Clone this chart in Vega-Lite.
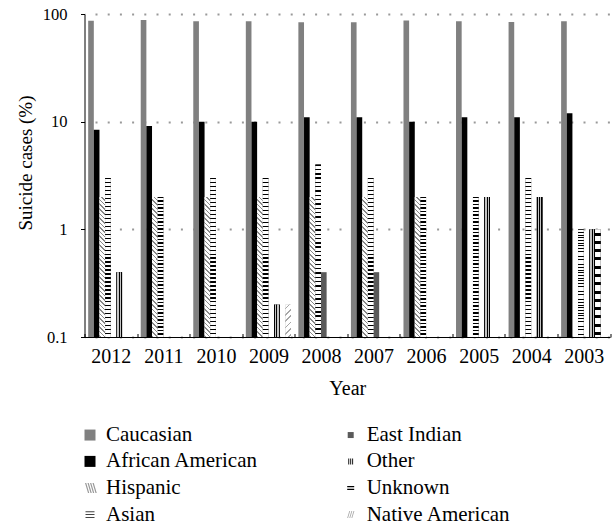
{
  "$schema": "https://vega.github.io/schema/vega-lite/v6.json",
  "width": 525.5,
  "height": 323,
  "autosize": {"type": "none"},
  "padding": {"left": 84.5, "top": 14, "right": 5, "bottom": 190},
  "background": "white",
  "config": {
    "font": "Liberation Serif",
    "view": {"stroke": null},
    "axis": {"labelFont": "Liberation Serif", "titleFont": "Liberation Serif"},
    "legend": {"labelFont": "Liberation Serif", "titleFont": "Liberation Serif"}
  },
  "data": {
    "values": [
      {"year": 2012, "race": "Caucasian", "value": 86.5},
      {"year": 2012, "race": "African American", "value": 8.4},
      {"year": 2012, "race": "Hispanic", "value": 2},
      {"year": 2012, "race": "Asian", "value": 3},
      {"year": 2012, "race": "Other", "value": 0.4},
      {"year": 2011, "race": "Caucasian", "value": 88},
      {"year": 2011, "race": "African American", "value": 9.1},
      {"year": 2011, "race": "Hispanic", "value": 2},
      {"year": 2011, "race": "Asian", "value": 2},
      {"year": 2010, "race": "Caucasian", "value": 85.5},
      {"year": 2010, "race": "African American", "value": 10},
      {"year": 2010, "race": "Hispanic", "value": 2},
      {"year": 2010, "race": "Asian", "value": 3},
      {"year": 2009, "race": "Caucasian", "value": 85.5},
      {"year": 2009, "race": "African American", "value": 10},
      {"year": 2009, "race": "Hispanic", "value": 2},
      {"year": 2009, "race": "Asian", "value": 3},
      {"year": 2009, "race": "Other", "value": 0.2},
      {"year": 2009, "race": "Native American", "value": 0.2},
      {"year": 2008, "race": "Caucasian", "value": 84},
      {"year": 2008, "race": "African American", "value": 11},
      {"year": 2008, "race": "Hispanic", "value": 2},
      {"year": 2008, "race": "Asian", "value": 4},
      {"year": 2008, "race": "East Indian", "value": 0.4},
      {"year": 2007, "race": "Caucasian", "value": 84},
      {"year": 2007, "race": "African American", "value": 11},
      {"year": 2007, "race": "Hispanic", "value": 2},
      {"year": 2007, "race": "Asian", "value": 3},
      {"year": 2007, "race": "East Indian", "value": 0.4},
      {"year": 2006, "race": "Caucasian", "value": 87},
      {"year": 2006, "race": "African American", "value": 10},
      {"year": 2006, "race": "Hispanic", "value": 2},
      {"year": 2006, "race": "Asian", "value": 2},
      {"year": 2005, "race": "Caucasian", "value": 85.5},
      {"year": 2005, "race": "African American", "value": 11},
      {"year": 2005, "race": "Asian", "value": 2},
      {"year": 2005, "race": "Other", "value": 2},
      {"year": 2004, "race": "Caucasian", "value": 84.5},
      {"year": 2004, "race": "African American", "value": 11},
      {"year": 2004, "race": "Asian", "value": 3},
      {"year": 2004, "race": "Other", "value": 2},
      {"year": 2003, "race": "Caucasian", "value": 85.5},
      {"year": 2003, "race": "African American", "value": 12},
      {"year": 2003, "race": "Asian", "value": 1},
      {"year": 2003, "race": "Other", "value": 1},
      {"year": 2003, "race": "Unknown", "value": 1}
    ]
  },
  "encoding": {
    "x": {
      "field": "year",
      "type": "ordinal",
      "scale": {"domain": [2012, 2011, 2010, 2009, 2008, 2007, 2006, 2005, 2004, 2003], "paddingInner": 0, "paddingOuter": 0},
      "axis": {
        "title": "Year",
        "labelAngle": 0,
        "labelFont": "Liberation Serif",
        "labelFontSize": 20,
        "labelColor": "#000",
        "labelPadding": 13,
        "tickSize": -3.5,
        "tickColor": "#000",
        "tickBand": "extent",
        "domainColor": "#000",
        "grid": false,
        "titleFont": "Liberation Serif",
        "titleFontSize": 20,
        "titleFontWeight": "normal",
        "titleColor": "#000",
        "titleY": 57,
        "titleBaseline": "alphabetic"
      }
    },
    "xOffset": {
      "field": "race",
      "type": "nominal",
      "scale": {
        "domain": ["Caucasian", "African American", "Hispanic", "Asian", "East Indian", "Other", "Unknown", "Native American"],
        "paddingInner": 0,
        "paddingOuter": 0.65
      }
    },
    "y": {
      "field": "value",
      "type": "quantitative",
      "stack": null,
      "scale": {"type": "log", "domain": [0.1, 100], "nice": false},
      "axis": {
        "title": "Suicide cases (%)",
        "values": [0.1, 1, 10, 100],
        "format": "~g",
        "labelFont": "Liberation Serif",
        "labelFontSize": 16.5,
        "labelColor": "#000",
        "labelPadding": 13.5,
        "tickSize": 4,
        "tickColor": "#000",
        "domainColor": "#000",
        "grid": true,
        "gridDash": [2, 10.2],
        "gridDashOffset": 1.7,
        "gridColor": "#999",
        "gridWidth": 2,
        "titleFont": "Liberation Serif",
        "titleFontSize": 19,
        "titleFontWeight": "normal",
        "titleColor": "#000",
        "titleAngle": -90,
        "titleX": -53,
        "titleY": 148.5,
        "titleAlign": "center",
        "titleBaseline": "alphabetic"
      }
    }
  },
  "layer": [
    {
      "mark": {"type": "bar"},
      "encoding": {
        "color": {
          "field": "race",
          "type": "nominal",
          "scale": {
            "domain": ["Caucasian", "African American", "Hispanic", "Asian", "East Indian", "Other", "Unknown", "Native American"],
            "range": ["#808080", "#000000", "#999999", "#444444", "#5a5a5a", "#000000", "#000000", "#aaaaaa"]
          },
          "legend": {
            "title": null,
            "orient": "none",
            "legendX": -5,
            "legendY": 410.3,
            "columns": 2,
            "columnPadding": 81.7,
            "rowPadding": 4.6,
            "padding": 0,
            "labelFont": "Liberation Serif",
            "labelFontSize": 21,
            "labelColor": "#000",
            "labelOffset": 5.5,
            "labelLimit": 300,
            "symbolType": "square",
            "symbolSize": 121,
            "symbolStrokeWidth": 0,
            "encode": {
              "symbols": {
                "update": {
                  "size": {"signal": "datum.value==='Caucasian'||datum.value==='African American'?121:datum.value==='Hispanic'?100:datum.value==='Asian'?81:datum.value==='Unknown'||datum.value==='Native American'?49:36"},
                  "shape": {"signal": "datum.value==='Hispanic'?'M-1,-1L-0.75,-1L-0.15,1L-0.4,1Z M-0.5,-1L-0.25,-1L0.35,1L0.1,1Z M0,-1L0.25,-1L0.85,1L0.6,1Z M0.5,-1L0.75,-1L1.35,1L1.1,1Z':datum.value==='Asian'?'M-1,-0.75h2v0.22h-2Z M-1,-0.11h2v0.22h-2Z M-1,0.53h2v0.22h-2Z':datum.value==='Other'?'M-0.8,-1h0.3v2h-0.3Z M-0.15,-1h0.3v2h-0.3Z M0.5,-1h0.3v2h-0.3Z':datum.value==='Unknown'?'M-1,-0.6h2v0.4h-2Z M-1,0.2h2v0.4h-2Z':datum.value==='Native American'?'M-1,1L-0.75,1L-0.15,-1L-0.4,-1Z M-0.4,1L-0.15,1L0.45,-1L0.2,-1Z M0.2,1L0.45,1L1.05,-1L0.8,-1Z':'square'"}
                }
              }
            }
          }
        }
      }
    },
    {
      "transform": [{"filter": "datum.race === 'Hispanic'"}],
      "mark": {
        "type": "bar",
        "fill": {"gradient": "linear", "x1": 0, "y1": 1, "x2": 0.0419, "y2": -0.0387, "stops": [
          {"offset": 0, "color": "#8a8a8a"}, {"offset": 0.0106, "color": "#8a8a8a"}, {"offset": 0.0106, "color": "#fff"},
          {"offset": 0.03125, "color": "#fff"}, {"offset": 0.03125, "color": "#8a8a8a"}, {"offset": 0.04185, "color": "#8a8a8a"}, {"offset": 0.04185, "color": "#fff"},
          {"offset": 0.0625, "color": "#fff"}, {"offset": 0.0625, "color": "#8a8a8a"}, {"offset": 0.0731, "color": "#8a8a8a"}, {"offset": 0.0731, "color": "#fff"},
          {"offset": 0.09375, "color": "#fff"}, {"offset": 0.09375, "color": "#8a8a8a"}, {"offset": 0.10435, "color": "#8a8a8a"}, {"offset": 0.10435, "color": "#fff"},
          {"offset": 0.125, "color": "#fff"}, {"offset": 0.125, "color": "#8a8a8a"}, {"offset": 0.1356, "color": "#8a8a8a"}, {"offset": 0.1356, "color": "#fff"},
          {"offset": 0.15625, "color": "#fff"}, {"offset": 0.15625, "color": "#8a8a8a"}, {"offset": 0.16685, "color": "#8a8a8a"}, {"offset": 0.16685, "color": "#fff"},
          {"offset": 0.1875, "color": "#fff"}, {"offset": 0.1875, "color": "#8a8a8a"}, {"offset": 0.1981, "color": "#8a8a8a"}, {"offset": 0.1981, "color": "#fff"},
          {"offset": 0.21875, "color": "#fff"}, {"offset": 0.21875, "color": "#8a8a8a"}, {"offset": 0.22935, "color": "#8a8a8a"}, {"offset": 0.22935, "color": "#fff"},
          {"offset": 0.25, "color": "#fff"}, {"offset": 0.25, "color": "#8a8a8a"}, {"offset": 0.2606, "color": "#8a8a8a"}, {"offset": 0.2606, "color": "#fff"},
          {"offset": 0.28125, "color": "#fff"}, {"offset": 0.28125, "color": "#8a8a8a"}, {"offset": 0.29185, "color": "#8a8a8a"}, {"offset": 0.29185, "color": "#fff"},
          {"offset": 0.3125, "color": "#fff"}, {"offset": 0.3125, "color": "#8a8a8a"}, {"offset": 0.3231, "color": "#8a8a8a"}, {"offset": 0.3231, "color": "#fff"},
          {"offset": 0.34375, "color": "#fff"}, {"offset": 0.34375, "color": "#8a8a8a"}, {"offset": 0.35435, "color": "#8a8a8a"}, {"offset": 0.35435, "color": "#fff"},
          {"offset": 0.375, "color": "#fff"}, {"offset": 0.375, "color": "#8a8a8a"}, {"offset": 0.3856, "color": "#8a8a8a"}, {"offset": 0.3856, "color": "#fff"},
          {"offset": 0.40625, "color": "#fff"}, {"offset": 0.40625, "color": "#8a8a8a"}, {"offset": 0.41685, "color": "#8a8a8a"}, {"offset": 0.41685, "color": "#fff"},
          {"offset": 0.4375, "color": "#fff"}, {"offset": 0.4375, "color": "#8a8a8a"}, {"offset": 0.4481, "color": "#8a8a8a"}, {"offset": 0.4481, "color": "#fff"},
          {"offset": 0.46875, "color": "#fff"}, {"offset": 0.46875, "color": "#8a8a8a"}, {"offset": 0.47935, "color": "#8a8a8a"}, {"offset": 0.47935, "color": "#fff"},
          {"offset": 0.5, "color": "#fff"}, {"offset": 0.5, "color": "#8a8a8a"}, {"offset": 0.5106, "color": "#8a8a8a"}, {"offset": 0.5106, "color": "#fff"},
          {"offset": 0.53125, "color": "#fff"}, {"offset": 0.53125, "color": "#8a8a8a"}, {"offset": 0.54185, "color": "#8a8a8a"}, {"offset": 0.54185, "color": "#fff"},
          {"offset": 0.5625, "color": "#fff"}, {"offset": 0.5625, "color": "#8a8a8a"}, {"offset": 0.5731, "color": "#8a8a8a"}, {"offset": 0.5731, "color": "#fff"},
          {"offset": 0.59375, "color": "#fff"}, {"offset": 0.59375, "color": "#8a8a8a"}, {"offset": 0.60435, "color": "#8a8a8a"}, {"offset": 0.60435, "color": "#fff"},
          {"offset": 0.625, "color": "#fff"}, {"offset": 0.625, "color": "#8a8a8a"}, {"offset": 0.6356, "color": "#8a8a8a"}, {"offset": 0.6356, "color": "#fff"},
          {"offset": 0.65625, "color": "#fff"}, {"offset": 0.65625, "color": "#8a8a8a"}, {"offset": 0.66685, "color": "#8a8a8a"}, {"offset": 0.66685, "color": "#fff"},
          {"offset": 0.6875, "color": "#fff"}, {"offset": 0.6875, "color": "#8a8a8a"}, {"offset": 0.6981, "color": "#8a8a8a"}, {"offset": 0.6981, "color": "#fff"},
          {"offset": 0.71875, "color": "#fff"}, {"offset": 0.71875, "color": "#8a8a8a"}, {"offset": 0.72935, "color": "#8a8a8a"}, {"offset": 0.72935, "color": "#fff"},
          {"offset": 0.75, "color": "#fff"}, {"offset": 0.75, "color": "#8a8a8a"}, {"offset": 0.7606, "color": "#8a8a8a"}, {"offset": 0.7606, "color": "#fff"},
          {"offset": 0.78125, "color": "#fff"}, {"offset": 0.78125, "color": "#8a8a8a"}, {"offset": 0.79185, "color": "#8a8a8a"}, {"offset": 0.79185, "color": "#fff"},
          {"offset": 0.8125, "color": "#fff"}, {"offset": 0.8125, "color": "#8a8a8a"}, {"offset": 0.8231, "color": "#8a8a8a"}, {"offset": 0.8231, "color": "#fff"},
          {"offset": 0.84375, "color": "#fff"}, {"offset": 0.84375, "color": "#8a8a8a"}, {"offset": 0.85435, "color": "#8a8a8a"}, {"offset": 0.85435, "color": "#fff"},
          {"offset": 0.875, "color": "#fff"}, {"offset": 0.875, "color": "#8a8a8a"}, {"offset": 0.8856, "color": "#8a8a8a"}, {"offset": 0.8856, "color": "#fff"},
          {"offset": 0.90625, "color": "#fff"}, {"offset": 0.90625, "color": "#8a8a8a"}, {"offset": 0.91685, "color": "#8a8a8a"}, {"offset": 0.91685, "color": "#fff"},
          {"offset": 0.9375, "color": "#fff"}, {"offset": 0.9375, "color": "#8a8a8a"}, {"offset": 0.9481, "color": "#8a8a8a"}, {"offset": 0.9481, "color": "#fff"},
          {"offset": 0.96875, "color": "#fff"}, {"offset": 0.96875, "color": "#8a8a8a"}, {"offset": 0.97935, "color": "#8a8a8a"}, {"offset": 0.97935, "color": "#fff"},
          {"offset": 1, "color": "#fff"}
        ]}
      }
    },
    {
      "transform": [{"filter": "datum.race === 'Asian'"}],
      "mark": {
        "type": "bar",
        "fill": {"gradient": "linear", "x1": 0.5, "y1": 0, "x2": 0.5, "y2": 1, "stops": [
          {"offset": 0, "color": "#000"}, {"offset": 0.008, "color": "#000"}, {"offset": 0.008, "color": "#fff"},
          {"offset": 0.025, "color": "#fff"}, {"offset": 0.025, "color": "#000"}, {"offset": 0.033, "color": "#000"}, {"offset": 0.033, "color": "#fff"},
          {"offset": 0.05, "color": "#fff"}, {"offset": 0.05, "color": "#000"}, {"offset": 0.058, "color": "#000"}, {"offset": 0.058, "color": "#fff"},
          {"offset": 0.075, "color": "#fff"}, {"offset": 0.075, "color": "#000"}, {"offset": 0.083, "color": "#000"}, {"offset": 0.083, "color": "#fff"},
          {"offset": 0.1, "color": "#fff"}, {"offset": 0.1, "color": "#000"}, {"offset": 0.108, "color": "#000"}, {"offset": 0.108, "color": "#fff"},
          {"offset": 0.125, "color": "#fff"}, {"offset": 0.125, "color": "#000"}, {"offset": 0.133, "color": "#000"}, {"offset": 0.133, "color": "#fff"},
          {"offset": 0.15, "color": "#fff"}, {"offset": 0.15, "color": "#000"}, {"offset": 0.158, "color": "#000"}, {"offset": 0.158, "color": "#fff"},
          {"offset": 0.175, "color": "#fff"}, {"offset": 0.175, "color": "#000"}, {"offset": 0.183, "color": "#000"}, {"offset": 0.183, "color": "#fff"},
          {"offset": 0.2, "color": "#fff"}, {"offset": 0.2, "color": "#000"}, {"offset": 0.208, "color": "#000"}, {"offset": 0.208, "color": "#fff"},
          {"offset": 0.225, "color": "#fff"}, {"offset": 0.225, "color": "#000"}, {"offset": 0.233, "color": "#000"}, {"offset": 0.233, "color": "#fff"},
          {"offset": 0.25, "color": "#fff"}, {"offset": 0.25, "color": "#000"}, {"offset": 0.258, "color": "#000"}, {"offset": 0.258, "color": "#fff"},
          {"offset": 0.275, "color": "#fff"}, {"offset": 0.275, "color": "#000"}, {"offset": 0.283, "color": "#000"}, {"offset": 0.283, "color": "#fff"},
          {"offset": 0.3, "color": "#fff"}, {"offset": 0.3, "color": "#000"}, {"offset": 0.308, "color": "#000"}, {"offset": 0.308, "color": "#fff"},
          {"offset": 0.325, "color": "#fff"}, {"offset": 0.325, "color": "#000"}, {"offset": 0.333, "color": "#000"}, {"offset": 0.333, "color": "#fff"},
          {"offset": 0.35, "color": "#fff"}, {"offset": 0.35, "color": "#000"}, {"offset": 0.358, "color": "#000"}, {"offset": 0.358, "color": "#fff"},
          {"offset": 0.375, "color": "#fff"}, {"offset": 0.375, "color": "#000"}, {"offset": 0.383, "color": "#000"}, {"offset": 0.383, "color": "#fff"},
          {"offset": 0.4, "color": "#fff"}, {"offset": 0.4, "color": "#000"}, {"offset": 0.408, "color": "#000"}, {"offset": 0.408, "color": "#fff"},
          {"offset": 0.425, "color": "#fff"}, {"offset": 0.425, "color": "#000"}, {"offset": 0.433, "color": "#000"}, {"offset": 0.433, "color": "#fff"},
          {"offset": 0.45, "color": "#fff"}, {"offset": 0.45, "color": "#000"}, {"offset": 0.458, "color": "#000"}, {"offset": 0.458, "color": "#fff"},
          {"offset": 0.475, "color": "#fff"}, {"offset": 0.475, "color": "#000"}, {"offset": 0.483, "color": "#000"}, {"offset": 0.483, "color": "#fff"},
          {"offset": 0.5, "color": "#fff"}, {"offset": 0.5, "color": "#000"}, {"offset": 0.508, "color": "#000"}, {"offset": 0.508, "color": "#fff"},
          {"offset": 0.525, "color": "#fff"}, {"offset": 0.525, "color": "#000"}, {"offset": 0.533, "color": "#000"}, {"offset": 0.533, "color": "#fff"},
          {"offset": 0.55, "color": "#fff"}, {"offset": 0.55, "color": "#000"}, {"offset": 0.558, "color": "#000"}, {"offset": 0.558, "color": "#fff"},
          {"offset": 0.575, "color": "#fff"}, {"offset": 0.575, "color": "#000"}, {"offset": 0.583, "color": "#000"}, {"offset": 0.583, "color": "#fff"},
          {"offset": 0.6, "color": "#fff"}, {"offset": 0.6, "color": "#000"}, {"offset": 0.608, "color": "#000"}, {"offset": 0.608, "color": "#fff"},
          {"offset": 0.625, "color": "#fff"}, {"offset": 0.625, "color": "#000"}, {"offset": 0.633, "color": "#000"}, {"offset": 0.633, "color": "#fff"},
          {"offset": 0.65, "color": "#fff"}, {"offset": 0.65, "color": "#000"}, {"offset": 0.658, "color": "#000"}, {"offset": 0.658, "color": "#fff"},
          {"offset": 0.675, "color": "#fff"}, {"offset": 0.675, "color": "#000"}, {"offset": 0.683, "color": "#000"}, {"offset": 0.683, "color": "#fff"},
          {"offset": 0.7, "color": "#fff"}, {"offset": 0.7, "color": "#000"}, {"offset": 0.708, "color": "#000"}, {"offset": 0.708, "color": "#fff"},
          {"offset": 0.725, "color": "#fff"}, {"offset": 0.725, "color": "#000"}, {"offset": 0.733, "color": "#000"}, {"offset": 0.733, "color": "#fff"},
          {"offset": 0.75, "color": "#fff"}, {"offset": 0.75, "color": "#000"}, {"offset": 0.758, "color": "#000"}, {"offset": 0.758, "color": "#fff"},
          {"offset": 0.775, "color": "#fff"}, {"offset": 0.775, "color": "#000"}, {"offset": 0.783, "color": "#000"}, {"offset": 0.783, "color": "#fff"},
          {"offset": 0.8, "color": "#fff"}, {"offset": 0.8, "color": "#000"}, {"offset": 0.808, "color": "#000"}, {"offset": 0.808, "color": "#fff"},
          {"offset": 0.825, "color": "#fff"}, {"offset": 0.825, "color": "#000"}, {"offset": 0.833, "color": "#000"}, {"offset": 0.833, "color": "#fff"},
          {"offset": 0.85, "color": "#fff"}, {"offset": 0.85, "color": "#000"}, {"offset": 0.858, "color": "#000"}, {"offset": 0.858, "color": "#fff"},
          {"offset": 0.875, "color": "#fff"}, {"offset": 0.875, "color": "#000"}, {"offset": 0.883, "color": "#000"}, {"offset": 0.883, "color": "#fff"},
          {"offset": 0.9, "color": "#fff"}, {"offset": 0.9, "color": "#000"}, {"offset": 0.908, "color": "#000"}, {"offset": 0.908, "color": "#fff"},
          {"offset": 0.925, "color": "#fff"}, {"offset": 0.925, "color": "#000"}, {"offset": 0.933, "color": "#000"}, {"offset": 0.933, "color": "#fff"},
          {"offset": 0.95, "color": "#fff"}, {"offset": 0.95, "color": "#000"}, {"offset": 0.958, "color": "#000"}, {"offset": 0.958, "color": "#fff"},
          {"offset": 0.975, "color": "#fff"}, {"offset": 0.975, "color": "#000"}, {"offset": 0.983, "color": "#000"}, {"offset": 0.983, "color": "#fff"},
          {"offset": 1, "color": "#fff"}
        ]}
      }
    },
    {
      "transform": [{"filter": "datum.race === 'Other'"}],
      "mark": {
        "type": "bar",
        "fill": {"gradient": "linear", "x1": 0, "y1": 0, "x2": 1, "y2": 0, "stops": [
          {"offset": 0, "color": "#000"}, {"offset": 0.18, "color": "#000"}, {"offset": 0.18, "color": "#c4c4c4"},
          {"offset": 0.41, "color": "#c4c4c4"}, {"offset": 0.41, "color": "#000"}, {"offset": 0.59, "color": "#000"},
          {"offset": 0.59, "color": "#c4c4c4"}, {"offset": 0.82, "color": "#c4c4c4"}, {"offset": 0.82, "color": "#000"},
          {"offset": 1, "color": "#000"}
        ]}
      }
    },
    {
      "transform": [{"filter": "datum.race === 'Unknown'"}],
      "mark": {
        "type": "bar",
        "fill": {"gradient": "linear", "x1": 0.5, "y1": 0, "x2": 0.5, "y2": 1, "stops": [
          {"offset": 0.03, "color": "#fff"}, {"offset": 0.03, "color": "#000"}, {"offset": 0.058, "color": "#000"}, {"offset": 0.058, "color": "#fff"},
          {"offset": 0.1069, "color": "#fff"}, {"offset": 0.1069, "color": "#000"}, {"offset": 0.1349, "color": "#000"}, {"offset": 0.1349, "color": "#fff"},
          {"offset": 0.1838, "color": "#fff"}, {"offset": 0.1838, "color": "#000"}, {"offset": 0.2118, "color": "#000"}, {"offset": 0.2118, "color": "#fff"},
          {"offset": 0.2608, "color": "#fff"}, {"offset": 0.2608, "color": "#000"}, {"offset": 0.2888, "color": "#000"}, {"offset": 0.2888, "color": "#fff"},
          {"offset": 0.3377, "color": "#fff"}, {"offset": 0.3377, "color": "#000"}, {"offset": 0.3657, "color": "#000"}, {"offset": 0.3657, "color": "#fff"},
          {"offset": 0.4146, "color": "#fff"}, {"offset": 0.4146, "color": "#000"}, {"offset": 0.4426, "color": "#000"}, {"offset": 0.4426, "color": "#fff"},
          {"offset": 0.4915, "color": "#fff"}, {"offset": 0.4915, "color": "#000"}, {"offset": 0.5195, "color": "#000"}, {"offset": 0.5195, "color": "#fff"},
          {"offset": 0.5685, "color": "#fff"}, {"offset": 0.5685, "color": "#000"}, {"offset": 0.5965, "color": "#000"}, {"offset": 0.5965, "color": "#fff"},
          {"offset": 0.6454, "color": "#fff"}, {"offset": 0.6454, "color": "#000"}, {"offset": 0.6734, "color": "#000"}, {"offset": 0.6734, "color": "#fff"},
          {"offset": 0.7223, "color": "#fff"}, {"offset": 0.7223, "color": "#000"}, {"offset": 0.7503, "color": "#000"}, {"offset": 0.7503, "color": "#fff"},
          {"offset": 0.7992, "color": "#fff"}, {"offset": 0.7992, "color": "#000"}, {"offset": 0.8272, "color": "#000"}, {"offset": 0.8272, "color": "#fff"},
          {"offset": 0.8762, "color": "#fff"}, {"offset": 0.8762, "color": "#000"}, {"offset": 0.9042, "color": "#000"}, {"offset": 0.9042, "color": "#fff"},
          {"offset": 0.9531, "color": "#fff"}, {"offset": 0.9531, "color": "#000"}, {"offset": 0.9811, "color": "#000"}, {"offset": 0.9811, "color": "#fff"}
        ]}
      }
    },
    {
      "transform": [{"filter": "datum.race === 'Native American'"}],
      "mark": {
        "type": "bar",
        "fill": {"gradient": "linear", "x1": 0, "y1": 0, "x2": 0.1988, "y2": 1.1398, "stops": [
          {"offset": 0.08, "color": "#fff"}, {"offset": 0.08, "color": "#a6a6a6"}, {"offset": 0.125, "color": "#a6a6a6"}, {"offset": 0.125, "color": "#fff"},
          {"offset": 0.2467, "color": "#fff"}, {"offset": 0.2467, "color": "#a6a6a6"}, {"offset": 0.2917, "color": "#a6a6a6"}, {"offset": 0.2917, "color": "#fff"},
          {"offset": 0.4133, "color": "#fff"}, {"offset": 0.4133, "color": "#a6a6a6"}, {"offset": 0.4583, "color": "#a6a6a6"}, {"offset": 0.4583, "color": "#fff"},
          {"offset": 0.58, "color": "#fff"}, {"offset": 0.58, "color": "#a6a6a6"}, {"offset": 0.625, "color": "#a6a6a6"}, {"offset": 0.625, "color": "#fff"},
          {"offset": 0.7467, "color": "#fff"}, {"offset": 0.7467, "color": "#a6a6a6"}, {"offset": 0.7917, "color": "#a6a6a6"}, {"offset": 0.7917, "color": "#fff"},
          {"offset": 0.9133, "color": "#fff"}, {"offset": 0.9133, "color": "#a6a6a6"}, {"offset": 0.9583, "color": "#a6a6a6"}, {"offset": 0.9583, "color": "#fff"}
        ]}
      }
    }
  ]
}
